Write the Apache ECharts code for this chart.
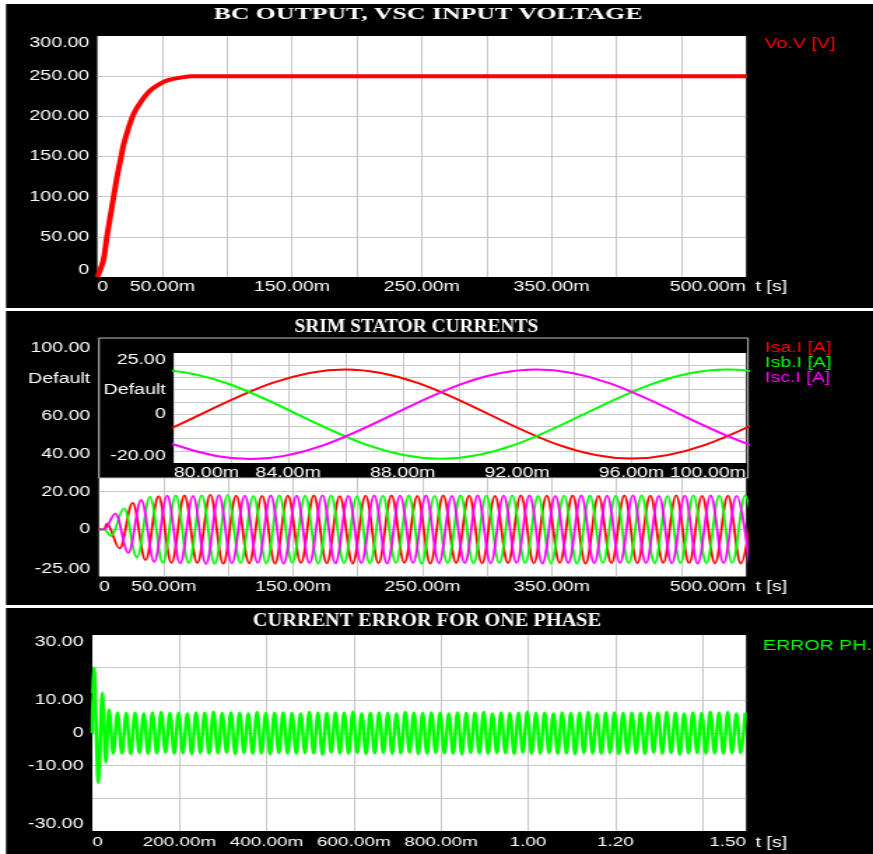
<!DOCTYPE html>
<html>
<head>
<meta charset="utf-8">
<title>Drive start-up waveforms</title>
<script src="https://cdn.jsdelivr.net/npm/echarts/dist/echarts.min.js"></script>
<style>
  html, body { margin: 0; padding: 0; background: #fff; overflow: hidden; }
  /* the scope screens are drawn on a narrower canvas and widened horizontally */
  #chart { width: 624px; height: 854px; transform: scaleX(1.39904); transform-origin: 0 0; }
</style>
</head>
<body>
<div id="chart"></div>
<script>
// ---------- Boost converter output / VSC input voltage (V) ----------
const voltT = [0, 0.0046, 0.0073, 0.0099, 0.0125, 0.0152, 0.0178, 0.0204, 0.0243, 0.0282, 0.0335, 0.040, 0.0466, 0.0545, 0.065, 0.0728, 0.5];
const voltV = [0, 21, 50, 75, 100, 125, 146, 166, 187, 204, 218, 231, 239, 245, 248.5, 250, 250];

// ---------- SRIM stator currents (A) ----------
// flat start, then successive peaks / troughs, one every half cycle
const statorLeadT = [0, 0.004];
const statorLeadV = [0, 0];
const halfCycle = 0.010;

const isaStart = 0.006;
const isaExtremes = [
  3.0, -10.1, 14.1, -16.3, 17.6, -17.8, 18.0, -17.9, 18.3, -18.2,
  17.9, -18.0, 17.8, -18.1, 17.9, -17.8, 18.0, -18.0, 17.7, -18.1,
  17.9, -17.9, 18.0, -17.8, 17.8, -18.1, 18.0, -17.9, 17.9, -18.0,
  17.8, -17.9, 18.1, -18.0, 17.9, -17.8, 18.0, -18.1, 17.8, -17.9,
  18.0, -18.0, 17.9, -17.8, 18.1, -17.9, 17.8, -18.0, 17.9, -18.1,
  17.8
];
const isbStart = 0.00933;
const isbExtremes = [
  -3.5, 11.2, -14.9, 17.3, -17.8, 18.0, -17.9, 18.1, -18.3, 18.2,
  -17.9, 17.8, -18.0, 18.1, -17.8, 17.9, -18.1, 18.0, -17.9, 17.7,
  -18.0, 17.9, -17.8, 18.0, -18.1, 17.8, -17.9, 18.0, -18.0, 17.9,
  -17.8, 18.1, -17.9, 17.8, -18.0, 17.9, -18.1, 18.0, -17.8, 17.9,
  -17.9, 18.0, -18.0, 17.8, -17.9, 18.1, -18.0, 17.9, -17.8, 18.0,
  -17.9
];
const iscStart = 0.01267;
const iscExtremes = [
  8.4, -12.4, 15.6, -17.2, 17.9, -18.0, 17.8, -18.4, 18.2,
  -18.0, 17.9, -17.8, 18.0, -18.1, 17.9, -17.9, 18.1, -18.0, 17.8,
  -17.9, 18.0, -18.1, 17.9, -17.8, 18.0, -18.0, 17.8, -17.9, 18.1,
  -18.0, 17.9, -17.8, 18.0, -18.1, 17.8, -17.9, 18.0, -18.0, 17.9,
  -17.8, 18.1, -17.9, 17.8, -18.0, 17.9, -18.1, 18.0, -17.9, 17.8,
  -18.0
];

// ---------- Current error for one phase (A) ----------
const errLeadT = [0, 0.0005, 0.0039, 0.0138, 0.023, 0.0307, 0.0383];
const errLeadV = [0, 11.8, 20, -15.2, 12.3, -9.0, 7.1];
const errStart = 0.048;
const errExtremes = [
  -6.3, 6.3, -6.2, 6.1, -6.4, 6.2, -6.1, 6.0, -6.3, 6.3, -6.2, 6.4, -6.0, 6.1, -6.3, 6.2, -6.2, 6.0, -6.4, 6.3,
  -6.1, 6.2, -6.3, 6.5, -6.2, 6.1, -6.0, 6.3, -6.4, 6.2, -6.1, 6.0, -6.3, 6.4, -6.2, 6.1, -6.5, 6.2, -6.1, 6.3,
  -6.2, 6.1, -6.3, 6.0, -6.1, 6.4, -6.2, 6.2, -6.6, 6.1, -6.0, 6.3, -6.2, 6.2, -6.3, 6.5, -6.1, 6.0, -6.4, 6.2,
  -6.2, 6.3, -6.1, 6.1, -6.3, 6.0, -6.2, 6.4, -6.0, 6.2, -6.4, 6.1, -6.3, 6.3, -6.1, 6.2, -6.2, 6.0, -6.3, 6.3,
  -6.5, 6.1, -6.1, 6.2, -6.2, 6.4, -6.3, 6.0, -6.1, 6.3, -6.2, 6.1, -6.4, 6.2, -6.0, 6.5, -6.3, 6.1, -6.2, 6.2,
  -6.1, 6.0, -6.3, 6.3, -6.2, 6.1, -6.5, 6.2, -6.1, 6.4, -6.2, 6.0, -6.3, 6.2, -6.1, 6.3, -6.4, 6.1, -6.2, 6.2,
  -6.2, 6.1, -6.4, 6.3, -6.0, 6.2, -6.3, 6.4, -6.1, 6.2, -6.6, 6.0, -6.2, 6.3, -6.1, 6.1, -6.3, 6.5, -6.2, 6.2,
  -6.3, 6.4, -6.1, 6.0, -6.2, 6.2
];

// ---------- Tick labels ----------
const voltXLabels = [0, 0.05, 0.15, 0.25, 0.35, 0.5];
const statorXLabels = [0, 0.05, 0.15, 0.25, 0.35, 0.5];
const statorYLabels = [-25, 0, 20, 40, 60, 80, 100];
const statorYGrid = [-20, 0, 20, 40, 60, 80, 100];
const statorYDefault = 80;
const zoomXLabels = [0.08, 0.084, 0.088, 0.092, 0.096, 0.1];
const zoomYLabels = [-20, 0, 10, 25];
const zoomYDefault = 10;
const errXLabels = [0, 0.2, 0.4, 0.6, 0.8, 1.0, 1.2, 1.5];
const errYLabels = [-30, -10, 0, 10, 30];

// ---------- helpers ----------
const SX = 873 / 624;            // horizontal widening of the canvas
const X = v => v / SX;           // page x -> canvas x
const SANS = "'Liberation Sans', Arial, sans-serif";
const SERIF = "'Liberation Serif', 'Times New Roman', serif";
const LABEL = '#ffffff';
const GRID = '#c8c8c8';
const RED = '#ff0000', GREEN = '#00ff00', MAGENTA = '#ff00ff';

function pairs(ts, vs) { return ts.map((t, i) => [t, vs[i]]); }
function withExtremes(leadT, leadV, start, step, values) {
  const pts = pairs(leadT, leadV);
  values.forEach((v, i) => pts.push([+(start + i * step).toFixed(6), v]));
  return pts;
}
function fmtTime(v) {
  if (v === 0) return '0';
  return v < 1 ? (v * 1000).toFixed(2) + 'm' : v.toFixed(2);
}
function fmtAmp(v) { return v === 0 ? '0' : v.toFixed(2); }

const splitLine = { show: true, showMinLine: false, showMaxLine: false, lineStyle: { color: GRID, width: 1 } };

function xAxisOf(gridIndex, min, max, interval, labels, opts) {
  opts = opts || {};
  const ax = {
    type: 'value', gridIndex, min, max, interval,
    axisLine: { show: false, onZero: false }, axisTick: { show: false },
    splitLine,
    axisLabel: {
      customValues: labels, formatter: fmtTime, color: LABEL,
      fontFamily: SANS, fontSize: opts.fontSize || 14, margin: opts.margin || 3,
      alignMinLabel: 'left', alignMaxLabel: 'right', showMinLabel: true, showMaxLabel: true
    },
    z: opts.z || 0
  };
  if (opts.name) {
    ax.name = opts.name;
    ax.nameLocation = 'end';
    ax.nameGap = X(9.6);
    ax.nameTextStyle = { color: LABEL, fontFamily: SANS, fontSize: 14,
      verticalAlign: 'top', padding: [opts.namePad || 3, 0, 0, 0] };
  }
  return ax;
}
function yAxisOf(gridIndex, min, max, interval, labels, opts) {
  opts = opts || {};
  const ax = {
    type: 'value', gridIndex, min, max,
    axisLine: { show: false, onZero: false },
    axisTick: { show: false },
    splitLine,
    axisLabel: {
      color: LABEL, fontFamily: SANS, fontSize: 14, margin: opts.margin || X(8),
      formatter: opts.formatter || fmtAmp,
      verticalAlignMinLabel: 'bottom', verticalAlignMaxLabel: 'top',
      showMinLabel: true, showMaxLabel: true
    },
    z: opts.z || 0
  };
  if (interval != null) ax.interval = interval;
  if (labels) ax.axisLabel.customValues = labels;
  if (opts.grid) ax.axisTick.customValues = opts.grid;
  return ax;
}

const curveStyle = { smooth: 0.36, smoothMonotone: 'x', showSymbol: false, symbol: 'none', type: 'line', animation: false };

const isaData = withExtremes(statorLeadT, statorLeadV, isaStart, halfCycle, isaExtremes);
const isbData = withExtremes(statorLeadT, statorLeadV, isbStart, halfCycle, isbExtremes);
const iscData = withExtremes(statorLeadT, statorLeadV, iscStart, halfCycle, iscExtremes);
const errData = withExtremes(errLeadT, errLeadV, errStart, halfCycle, errExtremes);

const chart = echarts.init(document.getElementById('chart'), null, { renderer: 'canvas' });

chart.setOption({
  animation: false,
  backgroundColor: '#000000',
  grid: [
    { left: X(97.4), top: 36, width: X(746) - X(97.4), height: 241, show: true, backgroundColor: '#fff', borderWidth: 0 },
    { left: X(99), top: 341, width: X(746) - X(99), height: 235.5, show: true, backgroundColor: '#fff', borderWidth: 0 },
    { left: X(173.7), top: 353, width: X(746) - X(173.7), height: 110, show: true, backgroundColor: '#fff', borderWidth: 0, z: 5 },
    { left: X(92.3), top: 635, width: X(746) - X(92.3), height: 196, show: true, backgroundColor: '#fff', borderWidth: 0 }
  ],
  xAxis: [
    xAxisOf(0, 0, 0.5, 0.05, voltXLabels, { name: 't [s]', namePad: 3 }),
    xAxisOf(1, 0, 0.5, 0.05, statorXLabels, { name: 't [s]', namePad: 3.5, margin: 3.5 }),
    xAxisOf(2, 0.08, 0.1, 0.002, zoomXLabels, { z: 6 }),
    xAxisOf(3, 0, 1.5, 0.2, errXLabels, { name: 't [s]', namePad: 5, margin: 4.5, fontSize: 13.5 })
  ],
  yAxis: [
    yAxisOf(0, 0, 300, 50, null, {}),
    yAxisOf(1, -25, 100, null, statorYLabels, {
      grid: statorYGrid, margin: X(8.8),
      formatter: v => (v === statorYDefault ? 'Default' : fmtAmp(v))
    }),
    yAxisOf(2, -20, 25, 5, zoomYLabels, {
      z: 6, formatter: v => (v === zoomYDefault ? 'Default' : fmtAmp(v))
    }),
    yAxisOf(3, -30, 30, 10, errYLabels, { margin: X(8.8) })
  ],
  legend: [
    {
      data: [{ name: 'Vo.V [V]', textStyle: { color: RED } }],
      left: X(764.5) - 5, top: 37, orient: 'vertical', icon: 'none', itemWidth: 0, itemHeight: 14,
      padding: 0, selectedMode: false, textStyle: { fontFamily: SANS, fontSize: 14 }
    },
    {
      data: [
        { name: 'Isa.I [A]', textStyle: { color: RED } },
        { name: 'Isb.I [A]', textStyle: { color: GREEN } },
        { name: 'Isc.I [A]', textStyle: { color: MAGENTA } }
      ],
      left: X(765) - 5, top: 341.3, orient: 'vertical', icon: 'none', itemWidth: 0, itemHeight: 14, itemGap: 1,
      padding: 0, selectedMode: false, textStyle: { fontFamily: SANS, fontSize: 14 }
    },
    {
      data: [{ name: 'ERROR PH...', textStyle: { color: GREEN } }],
      left: X(763) - 5, top: 638, orient: 'vertical', icon: 'none', itemWidth: 0, itemHeight: 16,
      padding: 0, selectedMode: false, textStyle: { fontFamily: SANS, fontSize: 14 }
    }
  ],
  graphic: {
    elements: [
      // white frame between the three scope screens
      { type: 'rect', shape: { x: 0, y: 0, width: X(6), height: 854 }, style: { fill: '#fff' }, z: 20, silent: true },
      { type: 'rect', shape: { x: 0, y: 0, width: 624, height: 4 }, style: { fill: '#fff' }, z: 20, silent: true },
      { type: 'rect', shape: { x: 0, y: 308, width: 624, height: 3 }, style: { fill: '#fff' }, z: 20, silent: true },
      { type: 'rect', shape: { x: 0, y: 605, width: 624, height: 3 }, style: { fill: '#fff' }, z: 20, silent: true },
      // frame of the zoomed window in the stator current screen
      { type: 'rect', shape: { x: X(99), y: 338, width: X(748) - X(99), height: 140 },
        style: { fill: '#000', stroke: '#c0c0c0', lineWidth: 1 }, z: 3, silent: true },
      // screen titles
      { type: 'text', x: X(428), y: 15, scaleX: 1.15, z: 20, silent: true,
        style: { text: 'BC OUTPUT, VSC INPUT VOLTAGE', fill: '#fff', fontFamily: SERIF, fontWeight: 'bold', fontSize: 16,
          align: 'center', verticalAlign: 'middle', textAlign: 'center', textVerticalAlign: 'middle' } },
      { type: 'text', x: X(416.5), y: 326.7, scaleX: 0.73, z: 20, silent: true,
        style: { text: 'SRIM STATOR CURRENTS', fill: '#fff', fontFamily: SERIF, fontWeight: 'bold', fontSize: 19,
          align: 'center', verticalAlign: 'middle', textAlign: 'center', textVerticalAlign: 'middle' } },
      { type: 'text', x: X(427), y: 621.7, scaleX: 0.805, z: 20, silent: true,
        style: { text: 'CURRENT ERROR FOR ONE PHASE', fill: '#fff', fontFamily: SERIF, fontWeight: 'bold', fontSize: 18,
          align: 'center', verticalAlign: 'middle', textAlign: 'center', textVerticalAlign: 'middle' } }
    ]
  },
  series: [
    { name: 'Vo.V [V]', type: 'line', xAxisIndex: 0, yAxisIndex: 0, data: pairs(voltT, voltV),
      smooth: 0.3, showSymbol: false, symbol: 'none', color: RED, lineStyle: { color: RED, width: 4 } },

    Object.assign({ name: 'Isa.I [A]', xAxisIndex: 1, yAxisIndex: 1, data: isaData, color: RED, lineStyle: { color: RED, width: 1.8 } }, curveStyle),
    Object.assign({ name: 'Isb.I [A]', xAxisIndex: 1, yAxisIndex: 1, data: isbData, color: GREEN, lineStyle: { color: GREEN, width: 1.8 } }, curveStyle),
    Object.assign({ name: 'Isc.I [A]', xAxisIndex: 1, yAxisIndex: 1, data: iscData, color: MAGENTA, lineStyle: { color: MAGENTA, width: 1.8 } }, curveStyle),

    Object.assign({ name: 'Isa.I [A]', xAxisIndex: 2, yAxisIndex: 2, data: isaData, color: RED, lineStyle: { color: RED, width: 2 }, z: 7 }, curveStyle),
    Object.assign({ name: 'Isb.I [A]', xAxisIndex: 2, yAxisIndex: 2, data: isbData, color: GREEN, lineStyle: { color: GREEN, width: 2 }, z: 7 }, curveStyle),
    Object.assign({ name: 'Isc.I [A]', xAxisIndex: 2, yAxisIndex: 2, data: iscData, color: MAGENTA, lineStyle: { color: MAGENTA, width: 2 }, z: 7 }, curveStyle),

    Object.assign({ name: 'ERROR PH...', xAxisIndex: 3, yAxisIndex: 3, data: errData, color: GREEN, lineStyle: { color: GREEN, width: 2.5 } }, curveStyle)
  ]
});
</script>
</body>
</html>
